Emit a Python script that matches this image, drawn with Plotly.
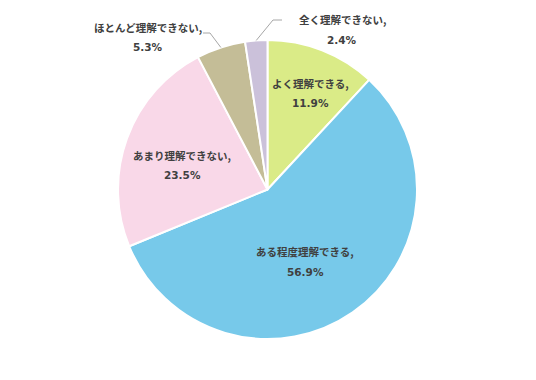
import math
import plotly.graph_objects as go

# Survey answers, clockwise from 12 o'clock
categories = ["よく理解できる", "ある程度理解できる", "あまり理解できない", "ほとんど理解できない", "全く理解できない"]
shares = [11.9, 56.9, 23.5, 5.3, 2.4]
colors = ["#DAEB87", "#77C9EA", "#F9D8E8", "#C4BD97", "#CBC1DA"]

W, H = 536, 380
CX, CY, R = 267.5, 189.5, 149.5  # pie centre / radius in pixels (from top-left)

# label centres in pixels (from top-left); small slices get leader lines
label_pos = {
    "よく理解できる": (310, 93),
    "ある程度理解できる": (305, 262),
    "あまり理解できない": (182, 165),
    "ほとんど理解できない": (148, 37),
    "全く理解できない": (342, 30),
}
# leader line elbows for outside labels: (elbow point, end point)
leaders = {
    "ほとんど理解できない": ((210, 33), (203, 33)),
    "全く理解できない": ((273, 20), (282, 20)),
}

TEXT = "#404040"
JP_FONT = "Noto Sans CJK JP"
NUM_FONT = "DejaVu Sans"


def px(x):
    return x / W


def py(y):
    return 1 - y / H


fig = go.Figure(
    go.Pie(
        labels=categories,
        values=shares,
        sort=False,
        direction="clockwise",
        rotation=0,
        marker=dict(colors=colors, line=dict(color="white", width=2)),
        textinfo="none",
        hoverinfo="label+percent",
        showlegend=False,
        domain=dict(x=[px(CX - R), px(CX + R)], y=[py(CY + R), py(CY - R)]),
    )
)

annotations = []
shapes = []
total = sum(shares)
cum = 0.0
for name, v in zip(categories, shares):
    mid = (cum + v / 2) / total * 2 * math.pi
    cum += v
    lx, ly = label_pos[name]
    annotations.append(dict(
        x=px(lx), y=py(ly - 10), xref="paper", yref="paper", showarrow=False,
        text=f"{name},", font=dict(family=JP_FONT, size=10.5, color=TEXT, weight="bold"),
        xanchor="center", yanchor="middle",
    ))
    annotations.append(dict(
        x=px(lx), y=py(ly + 10), xref="paper", yref="paper", showarrow=False,
        text=f"{v:.1f}%", font=dict(family=NUM_FONT, size=10.5, color=TEXT, weight="bold"),
        xanchor="center", yanchor="middle",
    ))
    if name in leaders:
        sx = CX + R * math.sin(mid)
        sy = CY - R * math.cos(mid)
        (ex, ey), (tx, ty) = leaders[name]
        path = f"M {px(sx)},{py(sy)} L {px(ex)},{py(ey)} L {px(tx)},{py(ty)}"
        shapes.append(dict(type="path", path=path, xref="paper", yref="paper",
                           line=dict(color="#A6A6A6", width=1)))

fig.update_layout(
    width=W, height=H,
    margin=dict(l=0, r=0, t=0, b=0),
    paper_bgcolor="white", plot_bgcolor="white",
    annotations=annotations, shapes=shapes,
)

fig.write_html("out.html")
